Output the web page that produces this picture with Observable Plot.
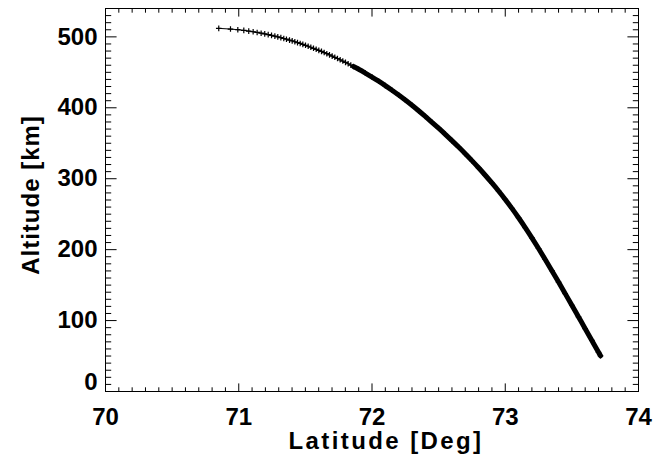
<!DOCTYPE html>
<html>
<head>
<meta charset="utf-8">
<script src="https://cdn.jsdelivr.net/npm/d3@7"></script>
<script src="https://cdn.jsdelivr.net/npm/@observablehq/plot@0.6"></script>
<style>
  html, body { margin: 0; padding: 0; background: white; }
</style>
</head>
<body>
<div id="chart"></div>
<script>
// Sparse part of the trajectory (individual "+" markers)
const sparseLat = [70.850, 70.938, 70.993, 71.038, 71.075, 71.108, 71.138, 71.168, 71.195, 71.221,
  71.246, 71.271, 71.293, 71.316, 71.338, 71.358, 71.381, 71.401, 71.421, 71.441,
  71.461, 71.481, 71.501, 71.521, 71.541, 71.561, 71.581, 71.601, 71.621, 71.641,
  71.661, 71.681, 71.701, 71.721, 71.741, 71.761, 71.781, 71.801, 71.821, 71.841];
const sparseAlt = [512.0, 511.0, 510.1, 509.1, 508.1, 507.2, 506.2, 505.2, 504.2, 503.1,
  502.1, 501.0, 500.0, 498.9, 497.7, 496.7, 495.4, 494.3, 493.1, 491.9,
  490.7, 489.4, 488.1, 486.8, 485.4, 483.9, 482.5, 481.0, 479.5, 477.9,
  476.3, 474.6, 472.9, 471.2, 469.5, 467.7, 465.9, 464.0, 462.1, 460.2];
// Dense part (markers merge into a thick band)
const denseLat = [71.861, 71.90, 71.95, 72.00, 72.05, 72.10, 72.15, 72.20, 72.25, 72.30,
  72.35, 72.40, 72.45, 72.50, 72.55, 72.60, 72.65, 72.70, 72.75, 72.80,
  72.85, 72.90, 72.95, 73.00, 73.05, 73.10, 73.15, 73.20, 73.25, 73.30,
  73.35, 73.40, 73.45, 73.50, 73.55, 73.60, 73.65, 73.70, 73.715];
const denseAlt = [458.2, 454.3, 449.0, 443.4, 437.5, 431.3, 424.8, 418.0, 410.9, 403.5,
  395.8, 387.8, 379.6, 371.2, 362.6, 353.7, 344.6, 335.2, 325.5, 315.4,
  304.9, 294.0, 282.7, 270.8, 258.2, 245.0, 231.1, 216.6, 201.6, 186.1,
  170.3, 154.3, 138.0, 121.6, 105.1, 88.6, 72.0, 55.3, 50.3];

const xTickLabels = [70, 71, 72, 73, 74];
const yTickLabels = [100, 200, 300, 400, 500];
const yZeroLabel = [0];
const xTitle = "Latitude [Deg]";
const yTitle = "Altitude [km]";

const sparse = sparseLat.map((v, i) => ({lat: v, alt: sparseAlt[i]}));
const dense = denseLat.map((v, i) => ({lat: v, alt: denseAlt[i]}));
const all = sparse.concat(dense);

const xMajor = xTickLabels;
const xMinor = d3.range(70, 74.0001, 0.1).map(v => +v.toFixed(1)).filter(v => !xMajor.includes(v) && v > 70 && v < 74);
const yMajor = [0, 100, 200, 300, 400, 500];
const yMinor = d3.range(10, 540, 10).filter(v => v % 100 !== 0);

const tickShape = {draw(context, l) { context.moveTo(0, 0); context.lineTo(0, -l); }};
const cross = {draw(context, size) {
  const s = Math.sqrt(size / Math.PI);
  context.moveTo(-s, 0); context.lineTo(s, 0);
  context.moveTo(0, -s); context.lineTo(0, s);
}};

const xl = 7.7, xs = 3.8, yl = 10.7, ys = 5.3;
function xt(data, len, anchor, rot) {
  return Plot.vector(data, {x: d => d, frameAnchor: anchor, length: len, rotate: rot, anchor: "start", shape: tickShape, stroke: "black", strokeWidth: 1});
}
function yt(data, len, anchor, rot) {
  return Plot.vector(data, {y: d => d, frameAnchor: anchor, length: len, rotate: rot, anchor: "start", shape: tickShape, stroke: "black", strokeWidth: 1});
}

const font = {fontSize: 24, fontWeight: "bold"};

const chart = Plot.plot({
  width: 654,
  height: 459,
  marginLeft: 105,
  marginRight: 16,
  marginTop: 8,
  marginBottom: 68,
  x: {domain: [70, 74]},
  y: {domain: [0, 540]},
  style: {fontFamily: "'Liberation Sans', Arial, Helvetica, sans-serif", background: "white", color: "black"},
  marks: [
    xt(xMajor, xl, "bottom", 0), xt(xMinor, xs, "bottom", 0),
    xt(xMajor, xl, "top", 180), xt(xMinor, xs, "top", 180),
    yt(yMajor, yl, "left", 90), yt(yMinor, ys, "left", 90),
    yt(yMajor, yl, "right", -90), yt(yMinor, ys, "right", -90),
    Plot.frame({stroke: "black", strokeWidth: 1}),
    Plot.axisX(xTickLabels, {tickSize: 0, tickPadding: 16, tickFormat: d => String(d), ...font, label: null}),
    Plot.axisY(yTickLabels, {tickSize: 0, tickPadding: 8, tickFormat: d => String(d), ...font, label: null}),
    Plot.axisY(yZeroLabel, {tickSize: 0, tickPadding: 8, dy: -9, tickFormat: d => String(d), ...font, label: null}),
    Plot.text([xTitle], {text: d => d, frameAnchor: "bottom", textAnchor: "middle", lineAnchor: "middle", dx: 14, dy: 50, ...font, fill: "black"}),
    Plot.text([yTitle], {text: d => d, frameAnchor: "left", textAnchor: "middle", lineAnchor: "middle", dx: -74, dy: -5, rotate: -90, ...font, fill: "black"}),
    Plot.line(all, {x: "lat", y: "alt", stroke: "black", strokeWidth: 1}),
    Plot.line(dense, {x: "lat", y: "alt", stroke: "black", strokeWidth: 5, curve: "catmull-rom"}),
    Plot.dot(all, {x: "lat", y: "alt", symbol: cross, r: 2.8, stroke: "black", fill: "none", strokeWidth: 1.2})
  ]
});

chart.querySelectorAll("text").forEach(t => {
  if (t.textContent === xTitle) t.setAttribute("letter-spacing", "2.4");
  if (t.textContent === yTitle) t.setAttribute("letter-spacing", "1");
});
document.getElementById("chart").appendChild(chart);
</script>
</body>
</html>
